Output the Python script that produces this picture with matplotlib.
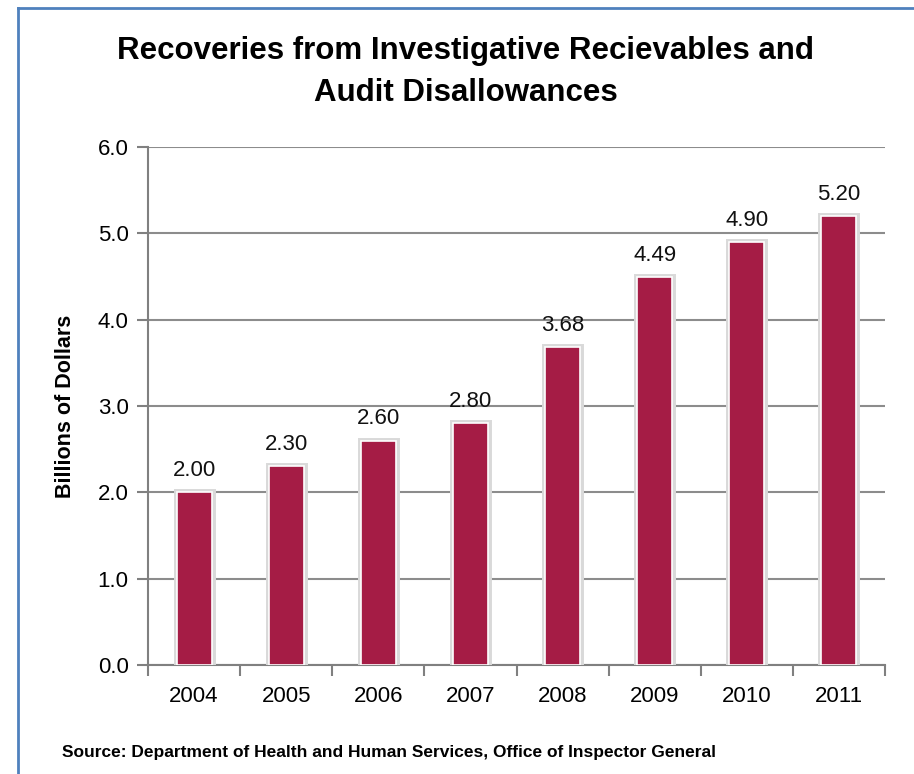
import matplotlib
matplotlib.use("Agg")
import matplotlib.pyplot as plt
import matplotlib.patheffects as pe
from matplotlib import font_manager
import numpy as np

years = ["2004", "2005", "2006", "2007", "2008", "2009", "2010", "2011"]
recoveries = [2.00, 2.30, 2.60, 2.80, 3.68, 4.49, 4.90, 5.20]

names = set(f.name for f in font_manager.fontManager.ttflist)
fam = "Liberation Sans Narrow" if "Liberation Sans Narrow" in names else "Liberation Sans"
plt.rcParams["font.family"] = [fam, "DejaVu Sans"]

fig = plt.figure(figsize=(9.14, 7.74), dpi=100)
ax = fig.add_axes([148 / 914, 1 - 665 / 774, (885 - 148) / 914, (665 - 147) / 774])

x = np.arange(len(years))
bars = ax.bar(x, recoveries, width=0.38, color="#A51C45", edgecolor="white",
              linewidth=1.2, zorder=3)
for b in bars:
    b.set_path_effects([pe.Stroke(linewidth=5, foreground="#d9d9d9"), pe.Normal()])

# value labels above the bars
for xi, v in zip(x, recoveries):
    ax.text(xi, v + 0.13, "%.2f" % v, ha="center", va="bottom", fontsize=16, color="#111111")

ax.set_xlim(-0.5, len(years) - 0.5)
ax.set_ylim(0, 6.0)
yt = np.arange(0, 6.01, 1.0)
ax.set_yticks(yt)
ax.set_yticklabels(["%.1f" % t for t in yt])
ax.set_xticks(x)
ax.set_xticklabels(years)
ax.set_xticks(np.arange(-0.5, len(years), 1.0), minor=True)
ax.tick_params(axis="x", which="major", length=0, labelsize=16, pad=15)
ax.tick_params(axis="x", which="minor", length=8, color="#808080", width=1.5)
ax.tick_params(axis="y", length=8, color="#808080", width=1.5, labelsize=16, pad=6)

ax.yaxis.grid(True, color="#8c8c8c", linewidth=1.5, zorder=0)
ax.set_axisbelow(True)
for s in ["top", "right"]:
    ax.spines[s].set_visible(False)
for s in ["left", "bottom"]:
    ax.spines[s].set_color("#808080")
    ax.spines[s].set_linewidth(1.5)

ax.set_ylabel("Billions of Dollars", fontsize=15.5, fontweight="bold")
ax.yaxis.set_label_coords((76 - 148) / (885 - 148), 0.5)

fig.text(466 / 914, 1 - 72 / 774, "Recoveries from Investigative Recievables and\nAudit Disallowances",
         ha="center", va="center", fontsize=22.5, fontweight="bold", linespacing=1.5)
fig.text(62 / 914, 1 - 752 / 774, "Source: Department of Health and Human Services, Office of Inspector General",
         ha="left", va="center", fontsize=12.5, fontweight="bold")

# blue frame on top and left
fig.add_artist(plt.Line2D([18 / 914, 1.0], [1 - 8 / 774, 1 - 8 / 774], color="#4F81BD", linewidth=2))
fig.add_artist(plt.Line2D([18 / 914, 18 / 914], [0, 1 - 8 / 774], color="#4F81BD", linewidth=2))

fig.savefig("out.png", dpi=100)
